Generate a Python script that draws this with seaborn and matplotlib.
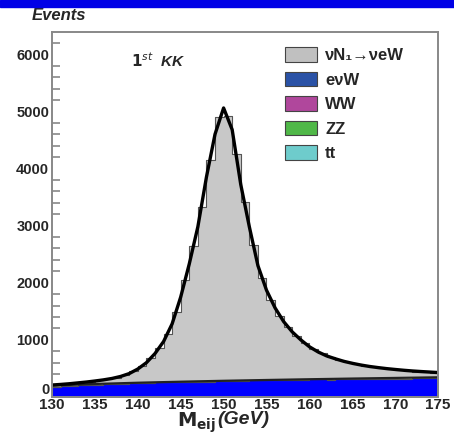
import numpy as np
import pandas as pd
import matplotlib
matplotlib.use('Agg')
import matplotlib.pyplot as plt
from matplotlib.patches import Patch, Rectangle
from matplotlib.ticker import MultipleLocator
import seaborn as sns

# bin edges (1 GeV) and per-bin event counts
bin_edges = list(range(130, 176))
bin_centers = [b + 0.5 for b in range(130, 175)]

signal_nN = [37, 37, 43, 50, 58, 72, 86, 106, 151, 211, 307, 433, 599, 845, 1222,
             1788, 2385, 3062, 3879, 4626, 4643, 3970, 3118, 2365, 1793, 1410, 1128,
             925, 763, 641, 539, 457, 395, 343, 296, 259, 232, 205, 183, 166, 149,
             132, 120, 108, 96]
bkg_evW = [178, 188, 197, 205, 212, 218, 224, 229, 234, 239, 243, 247, 251, 255, 258,
           262, 265, 268, 271, 274, 277, 280, 282, 285, 287, 290, 292, 295, 297, 299,
           301, 303, 305, 307, 309, 311, 313, 315, 317, 319, 321, 323, 325, 327, 329]
bkg_WW = [0, 0, 0, 0, 0, 0, 0, 0, 0, 0, 0, 6, 6, 0, 0, 0, 0, 0, 0, 0, 6, 6, 6, 6, 6,
          0, 0, 0, 6, 6, 6, 6, 0, 0, 0, 0, 0, 0, 0, 0, 0, 0, 0, 0, 0]
bkg_ZZ = [0] * 45
bkg_tt = [0] * 45

# fitted curves
fit_x = list(range(130, 176))
fit_total = [210, 220, 232, 247, 262, 280, 300, 325, 360, 410, 490, 600, 760, 970, 1280,
             1750, 2330, 2980, 3850, 4600, 5060, 4680, 3720, 2980, 2300, 1870, 1560, 1320,
             1140, 1000, 880, 790, 720, 670, 625, 590, 560, 535, 515, 497, 482, 468, 456,
             446, 437, 428]
bkg_fit_x = [130, 135, 140, 145, 150, 155, 160, 165, 170, 175]
bkg_fit = [200, 228, 250, 268, 284, 298, 311, 323, 334, 345]

# seaborn stacks the last hue level at the bottom
procs = ['signal', 'evW', 'tt', 'ZZ', 'WW']
frames = []
for name, vals in zip(procs, [signal_nN, bkg_evW, bkg_tt, bkg_ZZ, bkg_WW]):
    frames.append(pd.DataFrame({'mass': bin_centers, 'events': vals, 'process': name}))
df = pd.concat(frames, ignore_index=True)

sns.set_style('white')
plt.rcParams['font.family'] = ['Liberation Sans', 'DejaVu Sans']

fig = plt.figure(figsize=(4.54, 4.42), dpi=100)
ax = fig.add_axes([0.1145, 0.1018, 0.8505, 0.8258])

fill_cols = {'WW': '#b0479c', 'ZZ': '#50b848', 'tt': '#6ecccc',
             'evW': '#0000ff', 'signal': '#c8c8c8'}
sns.histplot(data=df, x='mass', weights='events', hue='process', hue_order=procs,
             multiple='stack', bins=bin_edges, element='step', fill=True,
             palette=fill_cols, alpha=1, linewidth=0.8, edgecolor='#555555',
             legend=False, ax=ax)

sns.lineplot(x=bkg_fit_x, y=bkg_fit, color='#222222', lw=1.6, ax=ax)
sns.lineplot(x=fit_x, y=fit_total, color='black', lw=2.4, ax=ax)

ax.set_xlim(130, 175)
ax.set_ylim(0, 6390)
ax.set_xticks(range(130, 176, 5))
ax.set_yticks(range(0, 6001, 1000))
ax.yaxis.set_minor_locator(MultipleLocator(200))
ax.xaxis.set_minor_locator(MultipleLocator(1))
ax.tick_params(axis='y', which='major', direction='in', length=12, width=1.2,
               color='#888888', labelsize=10.5, pad=2)
ax.tick_params(axis='y', which='minor', direction='in', length=6, width=1.2,
               color='#888888', left=True)
ax.tick_params(axis='x', which='both', direction='in', length=0, labelsize=11, pad=1)
for lab in ax.get_xticklabels() + ax.get_yticklabels():
    lab.set_fontweight('bold')
# lift the "0" label a bit, like in the original
ax.get_yticklabels()[0].set_verticalalignment('bottom')
for side in ['left', 'top', 'right', 'bottom']:
    ax.spines[side].set_color('#888888')
    ax.spines[side].set_linewidth(1.4)
ax.set_xlabel('')
ax.set_ylabel('')

# legend
leg_cols = ['#c0c0c0', '#2a52a6', '#b0479c', '#50b848', '#6ecccc']
leg_labels = ['νN₁→νeW', 'eνW', 'WW', 'ZZ', 'tt']
handles = [Patch(facecolor=c, edgecolor='#444444', lw=0.8) for c in leg_cols]
leg = ax.legend(handles, leg_labels, loc='upper left', bbox_to_anchor=(0.565, 1.0),
                frameon=False, prop={'weight': 'bold', 'size': 12},
                handlelength=1.9, handleheight=1.0, labelspacing=0.5, handletextpad=0.5)

ax.text(0.205, 0.905, r'$\mathbf{1}^{\mathit{st}}$  KK', transform=ax.transAxes,
        fontsize=11, fontweight='bold', style='italic')
fig.text(0.07, 0.955, 'Events', fontsize=12, fontweight='bold', style='italic')
fig.text(0.39, 0.035, r'$\mathbf{M_{eij}}$', fontsize=14, fontweight='bold')
fig.text(0.478, 0.04, '(GeV)', fontsize=14, fontweight='bold', style='italic')

fig.patches.append(Rectangle((0, 0.985), 1, 0.015, transform=fig.transFigure,
                             color='#0000e6', zorder=5))

fig.savefig('out.png', dpi=100)
